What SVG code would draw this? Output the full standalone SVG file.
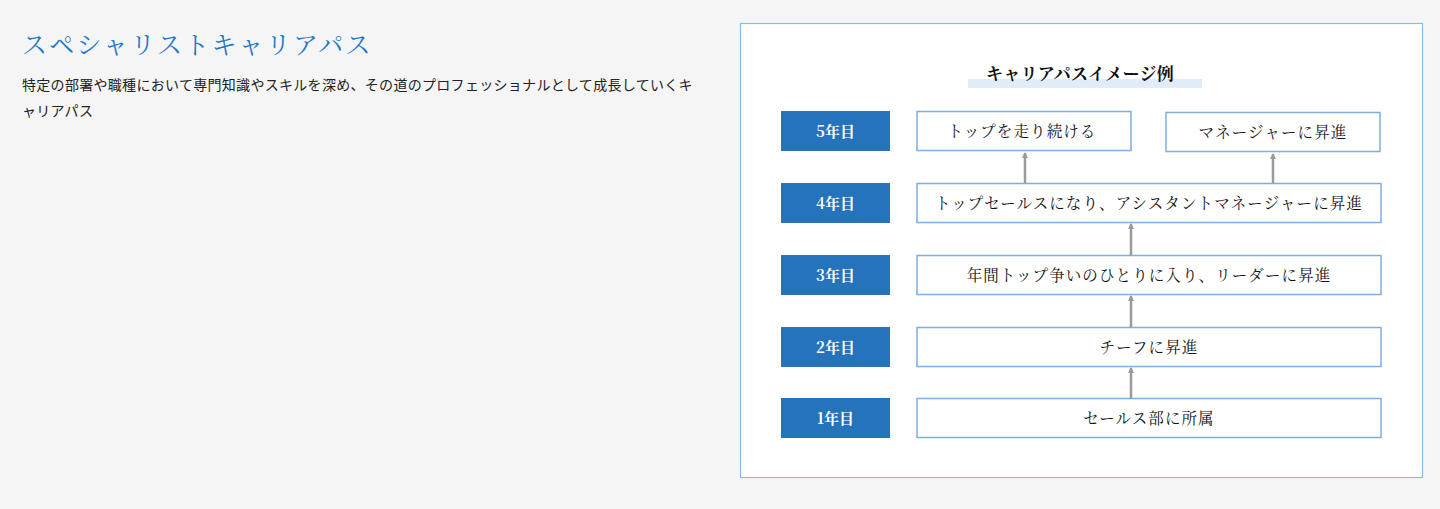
<svg xmlns="http://www.w3.org/2000/svg" width="1440" height="509" viewBox="0 0 1440 509">
<defs>
<style>
.bg{fill:#f5f5f5}
.head{font-family:"Noto Serif CJK JP","Noto Sans CJK JP",serif;font-size:25px;fill:#1f78cc;letter-spacing:2.2px}
.body{font-family:"Noto Sans CJK JP",sans-serif;font-size:14px;fill:#222;letter-spacing:0.3px}
.frame{fill:#fff;stroke:#8fb9ea;stroke-width:1.2}
.bar{fill:#e0edf9}
.title{font-family:"Noto Serif CJK JP","Noto Sans CJK JP",serif;font-size:17px;font-weight:bold;fill:#111;text-anchor:middle;letter-spacing:0.3px}
.yr rect{fill:#2473bb}
.yr text{font-family:"Noto Serif CJK JP","Noto Sans CJK JP",serif;font-size:15px;font-weight:bold;fill:#fff;text-anchor:middle}
.st rect{fill:#fff;stroke:#7eaedc;stroke-width:1.5}
.st text{font-family:"Noto Serif CJK JP","Noto Sans CJK JP",serif;font-size:15.5px;fill:#111;text-anchor:middle;letter-spacing:1.1px}
.arr{stroke:#9a9a9a;stroke-width:2.5;fill:none;marker-end:url(#ah)}
</style>
<marker id="ah" viewBox="0 0 6 6" refX="5" refY="3" markerWidth="2.4" markerHeight="2.4" orient="auto"><path d="M0,0 L6,3 L0,6 Z" fill="#9a9a9a"/></marker>
</defs>
<rect class="bg" x="0" y="0" width="1440" height="509"/>
<g id="header">
<text class="head" x="22" y="54">スペシャリストキャリアパス</text>
<text class="body" x="22" y="90">特定の部署や職種において専門知識やスキルを深め、その道のプロフェッショナルとして成長していくキ</text>
<text class="body" x="22" y="116">ャリアパス</text>
</g>
<rect class="frame" x="740.5" y="23.5" width="682" height="454"/>
<g id="chart-title">
<rect class="bar" x="968" y="79" width="234" height="9"/>
<text class="title" x="1080" y="80">キャリアパスイメージ例</text>
</g>
<g id="y5" class="yr"><rect x="781" y="111" width="109" height="40"/><text x="835.5" y="136.5">5年目</text></g>
<g id="y4" class="yr"><rect x="781" y="183" width="109" height="40"/><text x="835.5" y="208.5">4年目</text></g>
<g id="y3" class="yr"><rect x="781" y="255" width="109" height="40"/><text x="835.5" y="280.5">3年目</text></g>
<g id="y2" class="yr"><rect x="781" y="327" width="109" height="40"/><text x="835.5" y="352.5">2年目</text></g>
<g id="y1" class="yr"><rect x="781" y="398" width="109" height="40"/><text x="835.5" y="423.5">1年目</text></g>
<g id="s5a" class="st"><rect x="917" y="111.5" width="214" height="39"/><text x="1022" y="136.5">トップを走り続ける</text></g>
<g id="s5b" class="st"><rect x="1166" y="112.5" width="214" height="39"/><text x="1273" y="137.5">マネージャーに昇進</text></g>
<g id="s4" class="st"><rect x="917" y="183.5" width="464" height="39"/><text x="1149" y="208.5">トップセールスになり、アシスタントマネージャーに昇進</text></g>
<g id="s3" class="st"><rect x="917" y="255.5" width="464" height="39"/><text x="1149" y="280.5">年間トップ争いのひとりに入り、リーダーに昇進</text></g>
<g id="s2" class="st"><rect x="917" y="327.5" width="464" height="39"/><text x="1149" y="352.5">チーフに昇進</text></g>
<g id="s1" class="st"><rect x="917" y="398.5" width="464" height="39"/><text x="1149" y="423.5">セールス部に所属</text></g>
<g id="connectors">
<line class="arr" x1="1025" y1="183" x2="1025" y2="153"/>
<line class="arr" x1="1273" y1="183" x2="1273" y2="154"/>
<line class="arr" x1="1131" y1="255" x2="1131" y2="224"/>
<line class="arr" x1="1131" y1="327" x2="1131" y2="296"/>
<line class="arr" x1="1131" y1="398" x2="1131" y2="368"/>
</g>
</svg>
